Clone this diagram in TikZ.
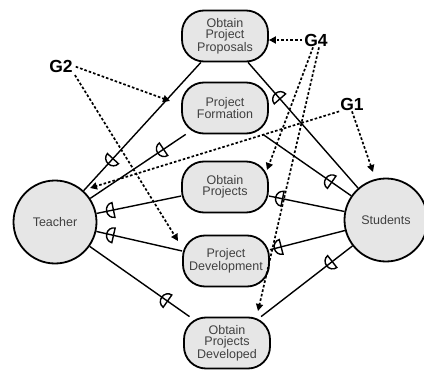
\documentclass[tikz,border=0pt]{standalone}
\usepackage{fontspec}
\setmainfont{Liberation Sans}
\usetikzlibrary{decorations.markings,arrows.meta,calc}
\definecolor{boxfill}{HTML}{E6E6E6}
\definecolor{txt}{HTML}{404040}
\tikzset{
 goal/.style={draw=black, line width=1.8pt, fill=boxfill, rounded corners=22pt, minimum width=86pt, minimum height=51pt, inner sep=0pt, align=center, text=txt, font=\fontsize{12.5}{11}\selectfont},
 actor/.style={circle, draw=black, line width=1.8pt, fill=boxfill, minimum size=83pt, inner sep=0pt, text=txt, font=\fontsize{12.5}{14}\selectfont},
 glabel/.style={font=\fontsize{17.5}{20}\selectfont\bfseries, inner sep=1pt},
 dep/.style={line width=1.4pt},
 gdash/.style={line width=1.7pt, dash pattern=on 2.6pt off 2pt, -{Triangle[length=7pt,width=7pt]}},
 dmark/.style={postaction={decorate, decoration={markings, mark=at position #1 with {\draw[line width=1.4pt, solid] (0pt,7.5pt) arc[start angle=90,end angle=270,x radius=7pt,y radius=7.5pt] -- cycle;}}}},
}
\begin{document}
\begin{tikzpicture}[x=1pt,y=-1pt]
\useasboundingbox (0,0) rectangle (424,372);
% actors
\node[actor] (teacher) at (55,222) {Teacher};
\node[actor] (students) at (386,220) {Students};
% goals
\node[goal] (prop) at (225,36) {Obtain\\Project\\Proposals};
\node[goal] (form) at (225,108) {Project\\Formation};
\node[goal] (obt) at (225,187) {Obtain\\Projects};
\node[goal] (dev) at (226,261) {Project\\Development};
\node[goal] (devd) at (227,343) {Obtain\\Projects\\Developed};
% dependency links
\draw[dep, dmark=0.25] (teacher) -- (prop);
\draw[dep, dmark=0.77] (teacher) -- (form);
\draw[dep, dmark=0.2] (teacher) -- (obt);
\draw[dep, dmark=0.2] (teacher) -- (dev);
\draw[dep, dmark=0.78] (teacher) -- (devd);
\draw[dep, dmark=0.29] (prop) -- (students);
\draw[dep, dmark=0.78] (form) -- (students);
\draw[dep, dmark=0.18] (obt) -- (students);
\draw[dep, dmark=0.15] (dev) -- (students);
\draw[dep, dmark=0.78] (devd) -- (students);
% labels
\node[glabel] (G2) at (61,66) {G2};
\node[glabel] (G4) at (316,40) {G4};
\node[glabel] (G1) at (352,104) {G1};
% arrow tips
\coordinate (t21) at (170,101);
\coordinate (t22) at (178,241);
\coordinate (t42) at (267,170);
\coordinate (t43) at (258,311);
\coordinate (t11) at (90,188);
\coordinate (t12) at (373,172);
\draw[gdash, shorten <=2pt] (G2.east) -- (t21);
\draw[gdash, shorten <=2pt] (G2.south east) -- (t22);
\draw[gdash, shorten <=1pt] (G4.west) -- (G4.west -| prop.east);
\draw[gdash] ([xshift=-3pt]G4.south) -- (t42);
\draw[gdash] ([xshift=3pt]G4.south) -- (t43);
\draw[gdash] (G1.south west) -- (t11);
\draw[gdash] (G1.south) -- (t12);
\end{tikzpicture}
\end{document}
